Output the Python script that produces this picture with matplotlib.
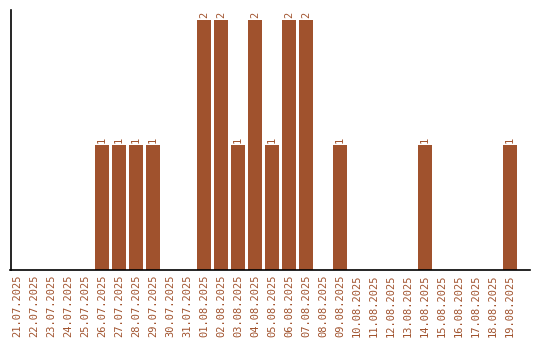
import matplotlib
matplotlib.use('Agg')
import matplotlib.pyplot as plt

# daily counts 21.07.2025 - 19.08.2025
dates = ['21.07.2025', '22.07.2025', '23.07.2025', '24.07.2025', '25.07.2025',
         '26.07.2025', '27.07.2025', '28.07.2025', '29.07.2025', '30.07.2025',
         '31.07.2025', '01.08.2025', '02.08.2025', '03.08.2025', '04.08.2025',
         '05.08.2025', '06.08.2025', '07.08.2025', '08.08.2025', '09.08.2025',
         '10.08.2025', '11.08.2025', '12.08.2025', '13.08.2025', '14.08.2025',
         '15.08.2025', '16.08.2025', '17.08.2025', '18.08.2025', '19.08.2025']
counts = [0, 0, 0, 0, 0,
          1, 1, 1, 1, 0,
          0, 2, 2, 1, 2,
          1, 2, 2, 0, 1,
          0, 0, 0, 0, 1,
          0, 0, 0, 0, 1]

color = '#A0522D'

fig = plt.figure(figsize=(5.4, 3.4), dpi=100)
ax = fig.add_axes([10.5 / 540, 70 / 340, 519.5 / 540, 260 / 340])

x = list(range(len(dates)))
bars = ax.bar(x, counts, width=0.82, color=color)

# value labels above non-empty bars
for xi, c in zip(x, counts):
    if c > 0:
        ax.text(xi, c + 0.02, str(c), rotation=90, ha='center', va='bottom',
                color=color, fontsize=7.5, family='DejaVu Sans Mono')

ax.set_xlim(-0.38, len(dates) - 1 + 1.18)
ax.set_ylim(0, 2.08)
ax.set_xticks(x)
ax.set_xticklabels(dates, rotation=90, color=color, fontsize=7.5,
                   family='DejaVu Sans Mono')
ax.set_yticks([])
ax.tick_params(axis='x', length=0, pad=3.5)
ax.spines['top'].set_visible(False)
ax.spines['right'].set_visible(False)
ax.spines['left'].set_linewidth(1.2)
ax.spines['bottom'].set_linewidth(1.2)

fig.savefig('out.png', dpi=100)
